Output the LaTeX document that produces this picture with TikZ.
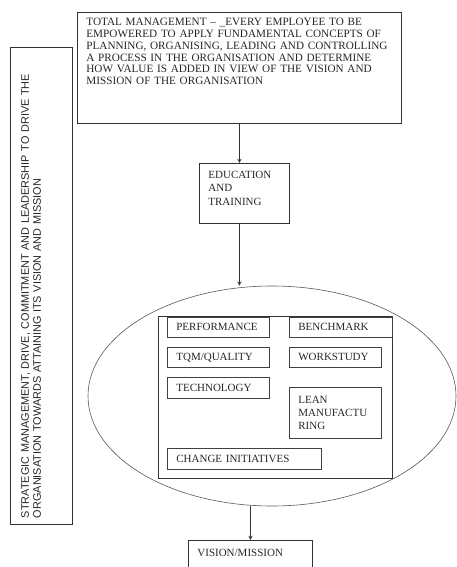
\documentclass[tikz,border=0pt]{standalone}
\usepackage{fontspec}
\setmainfont{Liberation Serif}
\newfontfamily\sidefont{Liberation Sans}
\usetikzlibrary{shapes.geometric}

\begin{document}
\begin{tikzpicture}[x=1pt,y=-1pt,>=stealth,
  every node/.style={text=black!85},
  box/.style={draw=black!80,line width=0.8pt,anchor=north west,align=left,inner xsep=9pt,inner ysep=3pt},
  item/.style={draw=black!75,line width=0.7pt,anchor=north west,align=left,inner xsep=9pt,inner ysep=0pt,
    font=\fontsize{11}{13}\selectfont},
  flow/.style={->,draw=black!80,line width=0.9pt}]
\useasboundingbox (0,0) rectangle (457,567);
\node (S) [draw=black!80,line width=0.8pt,rotate=90,align=left,inner xsep=6pt,inner ysep=3pt,
  text width=465pt,text height=15.8pt,text depth=40.2pt,font=\sidefont\fontsize{10.9}{12}\selectfont]
  at (41,285.5) {STRATEGIC MANAGEMENT, DRIVE, COMMITMENT AND LEADERSHIP TO DRIVE THE\\
  ORGANISATION TOWARDS ATTAINING ITS VISION AND MISSION};
\node (T) [box,text width=306pt,text height=10.6pt,text depth=94.4pt,font=\fontsize{11.2}{11.7}\selectfont]
  at (77,12) {TOTAL MANAGEMENT – \_EVERY EMPLOYEE TO BE\\
  EMPOWERED TO APPLY FUNDAMENTAL CONCEPTS OF\\
  PLANNING, ORGANISING, LEADING AND CONTROLLING\\
  A PROCESS IN THE ORGANISATION AND DETERMINE\\
  HOW VALUE IS ADDED IN VIEW OF THE VISION AND\\
  MISSION OF THE ORGANISATION};
\node (E) [box,text width=72pt,text height=11.6pt,text depth=42.4pt,font=\fontsize{11}{13.5}\selectfont]
  at (199,163) {EDUCATION\\AND\\TRAINING};
\node (O) [ellipse,draw=black!65,line width=0.6pt,minimum width=368pt,minimum height=220pt] at (272,396) {};
\node (R) [draw=black!80,line width=0.8pt,anchor=north west,minimum width=234pt,minimum height=162pt,inner sep=0pt]
  at (158,316) {};
\node (P) [item,text width=84pt,minimum height=20pt] at (167,317) {PERFORMANCE};
\node (B) [item,text width=85pt,minimum height=20pt] at (289,317) {BENCHMARK};
\node (Q) [item,text width=84pt,minimum height=20pt] at (167,347) {TQM/QUALITY};
\node (W) [item,text width=74pt,minimum height=20pt] at (289,347) {WORKSTUDY};
\node (H) [item,text width=84pt,minimum height=21pt] at (167,377) {TECHNOLOGY};
\node (L) [item,text width=74pt,minimum height=51pt] at (289,387) {LEAN\\MANUFACTU\\RING};
\node (C) [item,text width=136pt,minimum height=21pt] at (167,448) {CHANGE INITIATIVES};
\node (V) [box,text width=106pt,text height=13.5pt,text depth=30pt,font=\fontsize{11}{13}\selectfont]
  at (188,540) {VISION/MISSION};
\draw [flow] (T.south) -- (T.south |- E.north);
\draw [flow] (T.south |- E.south) -- (T.south |- O.north);
\draw [flow] (V.north |- O.south) -- (V.north);
\end{tikzpicture}
\end{document}
